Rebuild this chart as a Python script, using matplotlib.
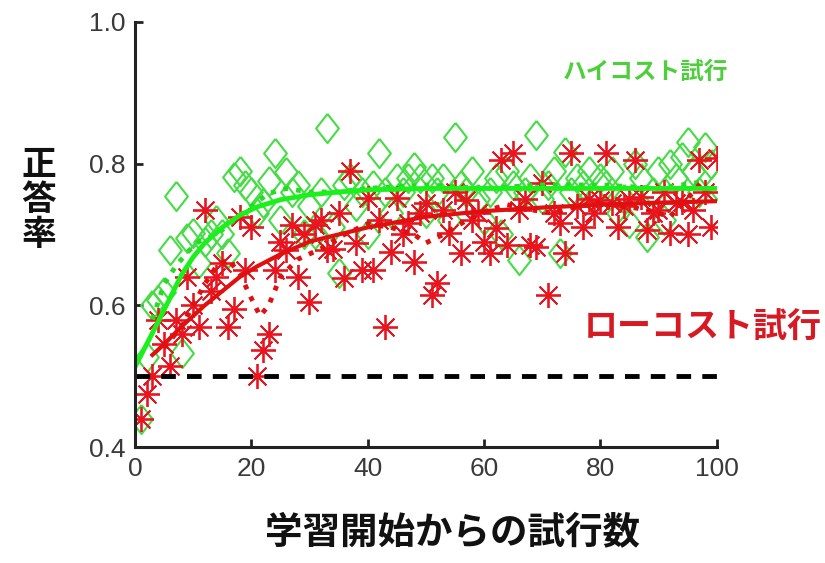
import numpy as np
import matplotlib
matplotlib.use("Agg")
import matplotlib.pyplot as plt

plt.rcParams['font.family'] = ['Noto Sans CJK JP', 'DejaVu Sans']

# trial number (x) for both series
trials = np.arange(1, 101)

# high-cost trials (green diamonds)
high_cost = [0.44, 0.527, 0.60, 0.607, 0.619, 0.678, 0.755, 0.533, 0.695, 0.702,
             0.66, 0.69, 0.70, 0.72, 0.70, 0.674, 0.781, 0.79, 0.77, 0.76,
             0.73, 0.745, 0.775, 0.815, 0.72, 0.788, 0.76, 0.77, 0.70, 0.74,
             0.70, 0.76, 0.85, 0.71, 0.646, 0.77, 0.78, 0.74, 0.76, 0.70,
             0.77, 0.815, 0.76, 0.73, 0.78, 0.76, 0.78, 0.795, 0.78, 0.73,
             0.78, 0.76, 0.78, 0.72, 0.838, 0.77, 0.76, 0.79, 0.75, 0.72,
             0.76, 0.78, 0.70, 0.79, 0.77, 0.664, 0.76, 0.78, 0.84, 0.75,
             0.77, 0.79, 0.674, 0.817, 0.76, 0.78, 0.77, 0.79, 0.75, 0.78,
             0.77, 0.79, 0.73, 0.75, 0.716, 0.80, 0.78, 0.697, 0.76, 0.79,
             0.72, 0.80, 0.78, 0.81, 0.83, 0.79, 0.76, 0.824, 0.80, 0.77]

# low-cost trials (red asterisks)
low_cost = [0.44, 0.475, 0.50, 0.58, 0.545, 0.515, 0.58, 0.56, 0.64, 0.60,
            0.57, 0.735, 0.62, 0.64, 0.66, 0.57, 0.595, 0.725, 0.65, 0.71,
            0.50, 0.537, 0.56, 0.65, 0.69, 0.678, 0.713, 0.64, 0.70, 0.605,
            0.713, 0.72, 0.678, 0.68, 0.73, 0.638, 0.79, 0.688, 0.65, 0.752,
            0.65, 0.72, 0.57, 0.675, 0.752, 0.70, 0.716, 0.661, 0.73, 0.745,
            0.615, 0.632, 0.735, 0.702, 0.76, 0.674, 0.749, 0.72, 0.73, 0.69,
            0.674, 0.709, 0.805, 0.685, 0.815, 0.735, 0.75, 0.685, 0.683, 0.773,
            0.615, 0.73, 0.716, 0.674, 0.815, 0.74, 0.711, 0.75, 0.73, 0.749,
            0.815, 0.745, 0.711, 0.74, 0.75, 0.805, 0.753, 0.706, 0.73, 0.735,
            0.76, 0.702, 0.745, 0.746, 0.70, 0.735, 0.805, 0.76, 0.711, 0.808]

# fitted curves
high_fit_x = [0, 2, 4, 6, 8, 10, 12, 15, 18, 21, 25, 30, 35, 40, 50, 60, 70, 80, 90, 100]
high_fit_y = [0.513, 0.545, 0.577, 0.61, 0.643, 0.668, 0.688, 0.71, 0.727, 0.739,
              0.749, 0.756, 0.760, 0.763, 0.765, 0.765, 0.765, 0.765, 0.765, 0.765]
low_fit_x = [3, 5, 8, 10, 12, 15, 18, 21, 25, 30, 35, 40, 50, 60, 70, 80, 90, 100]
low_fit_y = [0.53, 0.545, 0.57, 0.585, 0.60, 0.62, 0.64, 0.655, 0.672, 0.69,
             0.70, 0.71, 0.725, 0.733, 0.738, 0.742, 0.745, 0.747]

# running averages (dotted)
high_avg_x = [3, 5, 7, 9, 11, 14, 17, 20, 23, 26, 30, 35, 40, 50, 60, 70, 80, 90, 98]
high_avg_y = [0.58, 0.63, 0.655, 0.675, 0.69, 0.70, 0.72, 0.74, 0.758, 0.765,
              0.76, 0.76, 0.765, 0.77, 0.765, 0.77, 0.77, 0.765, 0.775]
low_avg_x = [5, 8, 10, 12, 14, 16, 18, 20, 21.5, 23, 25, 28, 32, 36, 40, 44, 48, 50,
             53, 57, 61, 64, 68, 72, 76, 80, 84, 88, 92, 96, 98]
low_avg_y = [0.54, 0.57, 0.60, 0.63, 0.655, 0.665, 0.645, 0.61, 0.585, 0.60, 0.64,
             0.665, 0.68, 0.70, 0.715, 0.71, 0.70, 0.688, 0.70, 0.72, 0.735, 0.742,
             0.735, 0.73, 0.74, 0.745, 0.74, 0.735, 0.725, 0.76, 0.78]

chance = 0.5

fig = plt.figure(figsize=(8.25, 5.63), dpi=100)
ax = fig.add_axes([0.1636, 0.206, 0.705, 0.755])

green = '#45dc45'
red = '#e8141e'

# diamond a bit wider than matplotlib's thin diamond
diamond = [(0, 1), (0.78, 0), (0, -1), (-0.78, 0), (0, 1)]

ax.plot(trials, high_cost, linestyle='none', marker=diamond, markersize=21,
        markerfacecolor='none', markeredgecolor=green, markeredgewidth=1.5)
ax.plot(trials, low_cost, linestyle='none', marker=(8, 2, 0), markersize=18,
        markeredgecolor=red, markeredgewidth=1.3, color=red)

ax.plot(high_avg_x, high_avg_y, ':', color='#22dd22', linewidth=3.5)
ax.plot(low_avg_x, low_avg_y, ':', color='#dd1111', linewidth=3.5)
ax.plot(high_fit_x, high_fit_y, '-', color='#1cf01c', linewidth=3.5)
ax.plot(low_fit_x, low_fit_y, '-', color='#e01010', linewidth=3)

ax.plot([0, 100], [chance, chance], color='black', linewidth=3.5,
        dashes=(3, 2.3))

ax.set_xlim(0, 100)
ax.set_ylim(0.4, 1.0)
ax.set_xticks([0, 20, 40, 60, 80, 100])
ax.set_yticks([0.4, 0.6, 0.8, 1.0])
ax.set_yticklabels(['0.4', '0.6', '0.8', '1.0'])
for s in ['top', 'right']:
    ax.spines[s].set_visible(False)
for s in ['left', 'bottom']:
    ax.spines[s].set_linewidth(2.2)
    ax.spines[s].set_color('#222222')
ax.tick_params(direction='in', length=6, width=2, color='#222222',
               labelsize=19, labelcolor='#3a3a3a', pad=7)
for lab in ax.get_xticklabels() + ax.get_yticklabels():
    lab.set_fontfamily('Liberation Sans')

fig.text(0.782, 0.872, 'ハイコスト試行', color='#4ccf3a',
         fontsize=17, fontweight='bold', ha='center', va='center')
fig.text(0.852, 0.418, 'ローコスト試行', color='#d61a24',
         fontsize=24.5, fontweight='bold', ha='center', va='center')

fig.text(0.047, 0.645, '正\n答\n率', fontsize=25, fontweight='bold',
         ha='center', va='center', linespacing=1.0, color='#111111')
fig.text(0.548, 0.055, '学習開始からの試行数', fontsize=27, fontweight='bold',
         ha='center', va='center', color='#111111')

fig.savefig('out.png', dpi=100)
